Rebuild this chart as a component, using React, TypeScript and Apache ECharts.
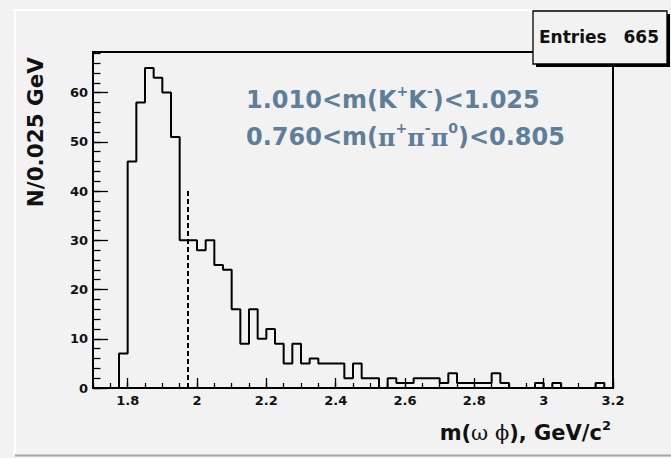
import React, { useEffect, useRef } from "react";
import * as echarts from "echarts";

// Histogram binning: 60 bins of 0.025 GeV starting at 1.7
const BIN_START = 1.7;
const BIN_WIDTH = 0.025;
const counts = [
  0, 0, 0, 7, 46, 58, 65, 63, 60, 51,
  30, 30, 28, 30, 25, 24, 16, 9, 16, 10,
  12, 9, 5, 9, 5, 6, 5, 5, 5, 2,
  5, 2, 2, 0, 2, 1, 1, 2, 2, 2,
  1, 3, 1, 1, 1, 1, 3, 1, 0, 0,
  0, 1, 0, 1, 0, 0, 0, 0, 1, 0,
];
const ENTRIES = 665;

const X_MIN = 1.7;
const X_MAX = 3.2;
const Y_MIN = 0;
const Y_MAX = 68.25;
const xMajorTicks = [1.8, 2, 2.2, 2.4, 2.6, 2.8, 3, 3.2];
const yMajorTicks = [0, 10, 20, 30, 40, 50, 60];

// Dashed cut marker
const CUT_X = 1.972;
const CUT_TOP = 40;

const BG = "#f2f2f2";
const CUT_COLOR = "#5f7e99";
const SANS = "DejaVu Sans";
const SERIF = "DejaVu Serif";

export default function App() {
  const ref = useRef<HTMLDivElement>(null);

  useEffect(() => {
    if (!ref.current) return;
    const chart = echarts.init(ref.current, undefined, { renderer: "svg" });

    // Step outline: one point per bin low edge, closed at the upper edge
    const outline: number[][] = counts.map((c, i) => [BIN_START + i * BIN_WIDTH, c]);
    outline.push([BIN_START + counts.length * BIN_WIDTH, 0]);

    const tickLabel = {
      fontFamily: SANS,
      fontWeight: "bold" as const,
      fontSize: 13,
      color: "#111",
    };

    chart.setOption({
      animation: false,
      backgroundColor: BG,
      grid: {
        left: 93,
        top: 52,
        right: 58,
        bottom: 70,
        show: true,
        borderColor: "#000",
        borderWidth: 2,
        backgroundColor: "transparent",
        containLabel: false,
        outerBoundsMode: "none",
      },
      xAxis: [
        {
          type: "value",
          min: X_MIN,
          max: X_MAX,
          interval: 0.05,
          position: "bottom",
          axisLine: { show: false },
          axisTick: { show: true, inside: true, length: 5, lineStyle: { color: "#000", width: 1.3 } },
          axisLabel: { show: false },
          splitLine: { show: false },
        },
        {
          type: "value",
          min: X_MIN,
          max: X_MAX,
          position: "bottom",
          axisLine: { show: false },
          axisTick: {
            show: true,
            inside: true,
            length: 10,
            customValues: xMajorTicks,
            lineStyle: { color: "#000", width: 1.3 },
          },
          axisLabel: {
            show: true,
            customValues: xMajorTicks,
            margin: 6,
            formatter: (v: number) => String(v),
            ...tickLabel,
          },
          splitLine: { show: false },
        },
      ],
      yAxis: [
        {
          type: "value",
          min: Y_MIN,
          max: Y_MAX,
          interval: 2,
          position: "left",
          axisLine: { show: false },
          axisTick: { show: true, inside: true, length: 7.5, lineStyle: { color: "#000", width: 1.3 } },
          axisLabel: { show: false },
          splitLine: { show: false },
        },
        {
          type: "value",
          min: Y_MIN,
          max: Y_MAX,
          position: "left",
          axisLine: { show: false },
          axisTick: {
            show: true,
            inside: true,
            length: 15,
            customValues: yMajorTicks,
            lineStyle: { color: "#000", width: 1.3 },
          },
          axisLabel: {
            show: true,
            customValues: yMajorTicks,
            margin: 5,
            formatter: (v: number) => String(v),
            ...tickLabel,
          },
          splitLine: { show: false },
        },
      ],
      series: [
        {
          type: "line",
          xAxisIndex: 0,
          yAxisIndex: 0,
          step: "end",
          data: outline,
          showSymbol: false,
          symbol: "none",
          lineStyle: { color: "#000", width: 2 },
          silent: true,
          markLine: {
            silent: true,
            symbol: "none",
            label: { show: false },
            lineStyle: { color: "#000", width: 2, type: [5, 3] },
            data: [[{ coord: [CUT_X, 0] }, { coord: [CUT_X, CUT_TOP] }]],
          },
        },
      ],
      graphic: [
        // canvas bevel
        { type: "line", z: 100, shape: { x1: 13, y1: 10, x2: 533, y2: 10 }, style: { stroke: "#ffffff", lineWidth: 2 } },
        { type: "line", z: 100, shape: { x1: 15, y1: 10, x2: 15, y2: 454 }, style: { stroke: "#ffffff", lineWidth: 2 } },
        { type: "line", z: 100, shape: { x1: 15, y1: 455.5, x2: 671, y2: 455.5 }, style: { stroke: "#a8a8a8", lineWidth: 2 } },
        // statistics box with shadow
        { type: "rect", z: 100, shape: { x: 536, y: 14, width: 134, height: 53 }, style: { fill: "#000" } },
        { type: "rect", z: 101, shape: { x: 533, y: 11, width: 134, height: 53 }, style: { fill: BG, stroke: "#000", lineWidth: 1.3 } },
        {
          type: "text", z: 102, x: 539, y: 37,
          style: { text: "Entries", fill: "#111", fontFamily: SANS, fontWeight: "bold", fontSize: 17, align: "left", verticalAlign: "middle" },
        },
        {
          type: "text", z: 102, x: 659, y: 37,
          style: { text: String(ENTRIES), fill: "#111", fontFamily: SANS, fontWeight: "bold", fontSize: 17, align: "right", verticalAlign: "middle" },
        },
        // selection cuts
        {
          type: "text", z: 102, x: 246, y: 98,
          style: {
            text: "{n|1.010<m(K}{s|+}{n|K}{s|-}{n|)<1.025}",
            align: "left",
            verticalAlign: "middle",
            rich: {
              n: { fontFamily: SANS, fontWeight: "bold", fontSize: 24, lineHeight: 28, fill: CUT_COLOR, verticalAlign: "bottom" },
              s: { fontFamily: SANS, fontWeight: "bold", fontSize: 14, lineHeight: 16, fill: CUT_COLOR, verticalAlign: "top" },
            },
          },
        },
        {
          type: "text", z: 102, x: 246, y: 135,
          style: {
            text: "{n|0.760<m(}{g|π}{s|+}{g|π}{s|-}{g|π}{s|0}{n|)<0.805}",
            align: "left",
            verticalAlign: "middle",
            rich: {
              n: { fontFamily: SANS, fontWeight: "bold", fontSize: 24, lineHeight: 28, fill: CUT_COLOR, verticalAlign: "bottom" },
              g: { fontFamily: SERIF, fontWeight: "bold", fontSize: 24, lineHeight: 28, fill: CUT_COLOR, verticalAlign: "bottom" },
              s: { fontFamily: SANS, fontWeight: "bold", fontSize: 14, lineHeight: 16, fill: CUT_COLOR, verticalAlign: "top" },
            },
          },
        },
        // axis titles
        {
          type: "text", z: 102, x: 35, y: 57, rotation: Math.PI / 2,
          style: { text: "N/0.025 GeV", fill: "#111", fontFamily: SANS, fontWeight: "bold", fontSize: 21.5, align: "right", verticalAlign: "middle" },
        },
        {
          type: "text", z: 102, x: 611, y: 431,
          style: {
            text: "{t|m(}{g|ω ϕ}{t|), GeV/c}{s|2}",
            align: "right",
            verticalAlign: "middle",
            rich: {
              t: { fontFamily: SANS, fontWeight: "bold", fontSize: 21, lineHeight: 25, fill: "#111", verticalAlign: "bottom" },
              g: { fontFamily: SERIF, fontWeight: "normal", fontSize: 21, lineHeight: 25, fill: "#111", verticalAlign: "bottom" },
              s: { fontFamily: SANS, fontWeight: "bold", fontSize: 13, lineHeight: 14, fill: "#111", verticalAlign: "top" },
            },
          },
        },
      ],
    });

    return () => chart.dispose();
  }, []);

  return (
    <div
      ref={ref}
      style={{ position: "fixed", left: 0, top: 0, width: 671, height: 458 }}
    />
  );
}
